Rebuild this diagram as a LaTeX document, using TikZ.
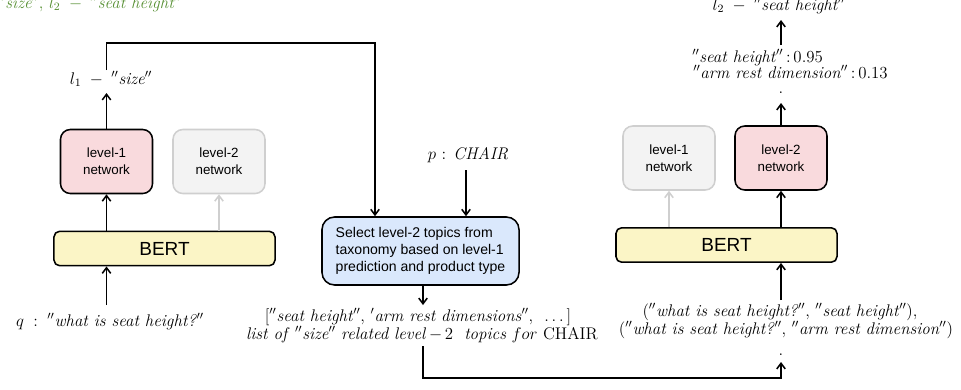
\documentclass[tikz,border=0pt]{standalone}
\usepackage{fontspec}
\setsansfont{Liberation Sans}
\usetikzlibrary{arrows.meta}

\definecolor{netpink}{HTML}{F9DADD}
\definecolor{netgray}{HTML}{F3F3F3}
\definecolor{netgrayline}{HTML}{CFCFCF}
\definecolor{bertyellow}{HTML}{FBF5C6}
\definecolor{selblue}{HTML}{DAE8FC}
\definecolor{labgreen}{HTML}{568F32}

\tikzset{
  wire/.style={line width=1.1pt, black},
  arr/.style={wire, -{Straight Barb[length=4pt,width=6pt]}},
  grayarr/.style={line width=1.1pt, netgrayline, -{Straight Barb[length=4pt,width=6pt]}},
  netbox/.style={draw, line width=1.1pt, rounded corners=7pt, align=center,
    minimum width=2.3cm, minimum height=1.6cm, font=\sffamily\fontsize{9.5}{12}\selectfont},
  activenet/.style={netbox, fill=netpink},
  idlenet/.style={netbox, fill=netgray, draw=netgrayline},
  bertbox/.style={draw, line width=1.1pt, rounded corners=4pt, fill=bertyellow,
    minimum width=5.525cm, minimum height=0.86cm, font=\sffamily\fontsize{13.5}{16}\selectfont},
  selbox/.style={draw, line width=1.1pt, rounded corners=9pt, fill=selblue, align=left,
    minimum width=4.925cm, minimum height=1.7cm, font=\sffamily\fontsize{10}{12}\selectfont},
  lab/.style={font=\fontsize{12}{14}\selectfont, inner sep=0pt},
}

\begin{document}
\begin{tikzpicture}[x=0.025cm, y=-0.025cm]
\useasboundingbox (0,0) rectangle (961,389);
\clip (0,0) rectangle (961,389);

% label line running off the top edge
\node[lab, text=labgreen, anchor=base west] (toplab) at (-2,8)
  {$''$\textit{size}$''$, $l_2\;-\;''$\textit{seat height}$''$};

% ---------- left: level-1 pass ----------
\node[activenet] (l1L) at (106.5,161.5) {level-1\\network};
\node[idlenet] (l2L) at (219,161.5) {level-2\\network};
\node[bertbox] (bertL) at (164.5,248.5) {BERT};

\draw[arr] (l1L.south |- bertL.north) -- (l1L.south);
\draw[grayarr] (l2L.south |- bertL.north) -- (l2L.south);

\node[lab, anchor=base] (qlab) at (110,326)
  {$q\;:\;''$\textit{what is seat height?}$''$};
\coordinate (qin) at (106.5,305);
\draw[arr] (qin) -- (qin |- bertL.south);

\node[lab, anchor=base] (l1lab) at (111,84) {$l_1\;-\;''$\textit{size}$''$};
\coordinate (l1tip) at (106.5,93);
\draw[arr] (l1L.north) -- (l1tip);

% ---------- middle: topic selection ----------
\node[selbox] (sel) at (420.5,251)
  {Select level-2 topics from\\taxonomy based on level-1\\prediction and product type};

\coordinate (l1out) at (106.5,70);
\coordinate (bend) at (375,43);
\draw[arr] (l1out) |- (bend) -- (bend |- sel.north);

\node[lab, anchor=base] (plab) at (468,159) {$p$ : \textit{CHAIR}};
\coordinate (pout) at (466,170);
\draw[arr] (pout) -- (pout |- sel.north);

\coordinate (listtip) at (423,305);
\draw[arr] (listtip |- sel.south) -- (listtip);

\node[lab, anchor=base] (list1) at (418,321)
  {[$''$\textit{seat height}$''$, $'$\textit{arm rest dimensions}$''$,\ \ $\ldots$\,]};
\node[lab, anchor=base] (list2) at (422,339)
  {\textit{list of} $''$\textit{size}$''$ \textit{related level}$\,-\,2$\ \ \textit{topics} $for$ CHAIR};

% ---------- right: level-2 pass ----------
\node[idlenet] (l1R) at (669,158) {level-1\\network};
\node[activenet] (l2R) at (781,158) {level-2\\network};
\node[bertbox] (bertR) at (726.5,245) {BERT};

\draw[grayarr] (l1R.south |- bertR.north) -- (l1R.south);
\draw[arr] (l2R.south |- bertR.north) -- (l2R.south);

\node[lab, anchor=base] (pair1) at (780,316)
  {($''$\textit{what is seat height?}$''$, $''$\textit{seat height}$''$),};
\node[lab, anchor=base] (pair2) at (786,334)
  {($''$\textit{what is seat height?}$''$, $''$\textit{arm rest dimension}$''$)};
\coordinate (pairin) at (781,300);
\draw[arr] (pairin) -- (pairin |- bertR.south);

\node[lab, anchor=base] (dotin) at (781,355) {.};
\coordinate (listout) at (423,346);
\coordinate (dotintip) at (781,362);
\draw[arr] (listout) |- (781,378) -- (dotintip);

\node[lab, anchor=base] (dotout) at (781,93) {.};
\coordinate (scoretip) at (781,103);
\draw[arr] (l2R.north) -- (scoretip);

\node[lab, anchor=base west] (score1) at (692,62) {$''$\textit{seat height}$''$\,:\,0.95};
\node[lab, anchor=base west] (score2) at (693,78) {$''$\textit{arm rest dimension}$''$\,:\,0.13};

\coordinate (scoreout) at (781,45);
\coordinate (l2tip) at (781,20);
\draw[arr] (scoreout) -- (l2tip);
\node[lab, anchor=base] (l2lab) at (779,10) {$l_2\;-\;''$\textit{seat height}$''$};
\end{tikzpicture}
\end{document}
